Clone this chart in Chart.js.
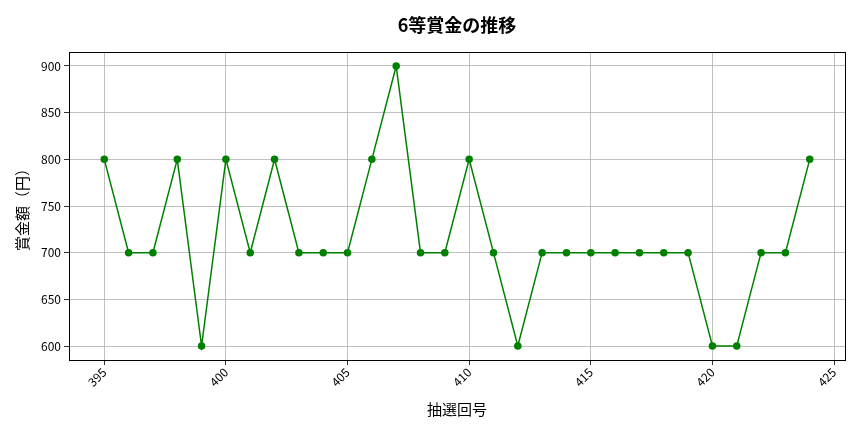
<!DOCTYPE html>
<html>
<head>
<meta charset="utf-8">
<script src="https://cdn.jsdelivr.net/npm/chart.js@4"></script>
<style>
  html, body { margin: 0; padding: 0; background: #fff; }
  #wrap { width: 864px; height: 432px; }
</style>
</head>
<body>
<div id="wrap"><canvas id="prizeChart"></canvas></div>
<script>
const FONT = '"Noto Sans CJK JP", "Noto Sans", sans-serif';

const draws = [395, 396, 397, 398, 399, 400, 401, 402, 403, 404, 405, 406, 407, 408, 409,
               410, 411, 412, 413, 414, 415, 416, 417, 418, 419, 420, 421, 422, 423, 424];
const prizes = [800, 700, 700, 800, 600, 800, 700, 800, 700, 700, 700, 800, 900, 700, 700,
                800, 700, 600, 700, 700, 700, 700, 700, 700, 700, 600, 600, 700, 700, 800];
const xTicks = [395, 400, 405, 410, 415, 420, 425];
const yTicks = [600, 650, 700, 750, 800, 850, 900];
const titleText = '6等賞金の推移';

const points = draws.map((d, i) => ({ x: d, y: prizes[i] }));

// frame round the plot area and title centred over it, like matplotlib
const frame = {
  id: 'frame',
  afterDraw(chart) {
    const { ctx, chartArea: a } = chart;
    ctx.save();
    ctx.strokeStyle = '#000';
    ctx.lineWidth = 1;
    ctx.strokeRect(a.left + 0.5, a.top + 0.5, a.right - a.left, a.bottom - a.top);
    ctx.fillStyle = '#000';
    ctx.font = 'bold 18px ' + FONT;
    ctx.textAlign = 'center';
    ctx.textBaseline = 'middle';
    ctx.fillText(titleText, (a.left + a.right) / 2, 25);
    ctx.restore();
  }
};

new Chart(document.getElementById('prizeChart'), {
  type: 'line',
  data: {
    datasets: [{
      data: points,
      borderColor: '#008000',
      backgroundColor: '#008000',
      borderWidth: 1.5,
      pointRadius: 3,
      pointHoverRadius: 3,
      tension: 0
    }]
  },
  options: {
    responsive: true,
    maintainAspectRatio: false,
    animation: false,
    layout: { padding: { left: 13, right: 19, top: 52, bottom: 14 } },
    plugins: {
      legend: { display: false },
      tooltip: { enabled: false },
      title: { display: false }
    },
    scales: {
      x: {
        type: 'linear',
        min: 393.55,
        max: 425.45,
        afterBuildTicks: s => { s.ticks = xTicks.map(v => ({ value: v })); },
        afterFit: s => { s.height = 58; },
        grid: { color: '#b0b0b0', lineWidth: 0.8, tickLength: 5, tickColor: '#000' },
        border: { display: false },
        ticks: {
          color: '#000',
          font: { family: FONT, size: 12 },
          minRotation: 45,
          maxRotation: 45,
          padding: 0
        },
        title: {
          display: true,
          text: '抽選回号',
          color: '#000',
          font: { family: FONT, size: 15 },
          padding: { top: 0, bottom: 0 }
        }
      },
      y: {
        min: 585,
        max: 915,
        afterBuildTicks: s => { s.ticks = yTicks.map(v => ({ value: v })); },
        afterFit: s => { s.width = 56; },
        grid: { color: '#b0b0b0', lineWidth: 0.8, tickLength: 5, tickColor: '#000' },
        border: { display: false },
        ticks: {
          color: '#000',
          font: { family: FONT, size: 12 },
          padding: 3
        },
        title: {
          display: true,
          text: '賞金額（円）',
          color: '#000',
          font: { family: FONT, size: 15 },
          padding: { top: 0, bottom: 0 }
        }
      }
    }
  },
  plugins: [frame]
});
</script>
</body>
</html>
